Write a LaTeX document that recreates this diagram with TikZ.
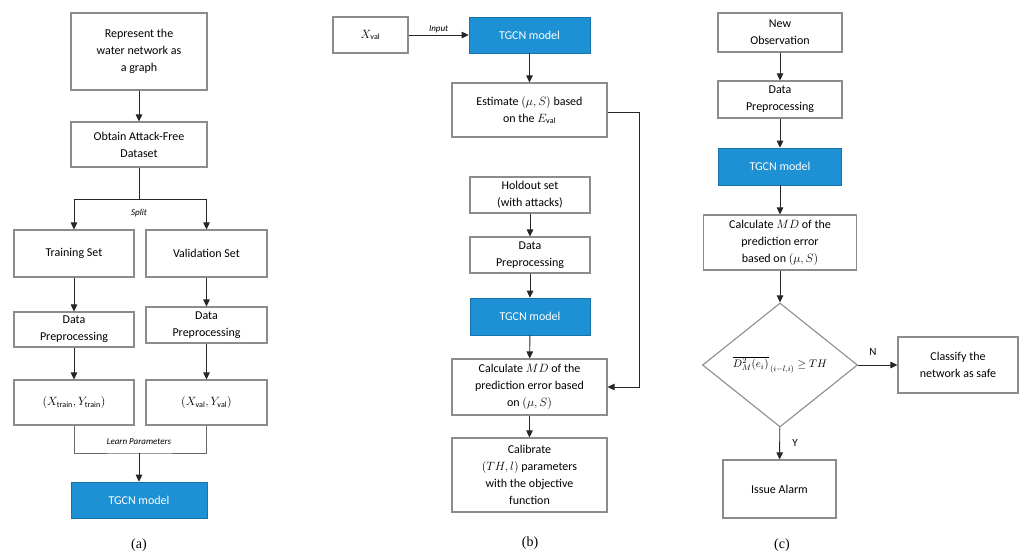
\documentclass[tikz,border=0pt]{standalone}
\usepackage{fontspec}
\setmainfont{Carlito}
\newfontfamily\capfont{Liberation Serif}
\usetikzlibrary{arrows.meta,shapes.geometric,calc}
\definecolor{tgblue}{RGB}{30,144,212}
\definecolor{boxgray}{RGB}{140,140,140}
\begin{document}
\begin{tikzpicture}[x=1pt,y=-1pt,
  box/.style={draw=boxgray,line width=1.1pt,fill=white,align=center,inner sep=2pt,font=\fontsize{12}{17}\selectfont},
  bluebox/.style={fill=tgblue,draw=tgblue!80!black,line width=0.6pt,text=white,align=center,font=\fontsize{12}{17}\selectfont},
  arr/.style={draw=black!85,line width=0.9pt,-{Triangle[length=7pt,width=6.5pt]}},
  ln/.style={draw=black!85,line width=0.9pt},
  lbl/.style={font=\fontsize{9}{10}\selectfont\itshape,inner sep=1pt},
  yn/.style={font=\fontsize{11}{12}\selectfont,inner sep=1pt},
  captxt/.style={font=\capfont\fontsize{14}{16}\selectfont}]
\useasboundingbox (0,0) rectangle (1020,557);
% ---------------- panel (a)
\node[box,minimum width=136,minimum height=77] (a1) at (139,51.5) {Represent the\\ water network as\\ a graph};
\node[box,minimum width=136,minimum height=45] (a2) at (139,144.5) {Obtain Attack-Free\\ Dataset};
\node[box,minimum width=120,minimum height=47] (a3) at (74,253.5) {Training Set};
\node[box,minimum width=121,minimum height=47] (a4) at (206.5,253.5) {Validation Set};
\node[box,minimum width=120,minimum height=35] (a5) at (74,329.5) {Data\\ Preprocessing};
\node[box,minimum width=121,minimum height=36] (a6) at (206.5,325) {Data\\ Preprocessing};
\node[box,minimum width=120,minimum height=45] (a7) at (74,402.5) {$(X_{\mathrm{train}},Y_{\mathrm{train}})$};
\node[box,minimum width=121,minimum height=45] (a8) at (206.5,402.5) {$(X_{\mathrm{val}},Y_{\mathrm{val}})$};
\node[bluebox,minimum width=136,minimum height=36] (a9) at (139,500) {TGCN model};
\coordinate (asplit) at (139,199);
\coordinate (alearn) at (139,453);
\node[captxt] (capa) at (139,545) {(a)};
\draw[arr] (a1) -- (a2);
\draw[ln] (a2) -- (asplit);
\draw[arr] (asplit) -| (a3.north);
\draw[arr] (asplit) -| (a4.north);
\node[lbl] (lsplit) at (139,213) {Split};
\draw[arr] (a3) -- (a5);
\draw[arr] (a4) -- (a6);
\draw[arr] (a5) -- (a7);
\draw[arr] (a6) -- (a8);
\draw[ln,draw=black!60,line width=0.7pt] (a7.south) |- (alearn) -| (a8.south);
\node[lbl] (llearn) at (139,442) {Learn Parameters};
\draw[arr] (alearn) -- (a9);
% ---------------- panel (b)
\node[box,minimum width=75,minimum height=36] (b1) at (370.5,35) {$X_{\mathrm{val}}$};
\node[bluebox,minimum width=121,minimum height=36] (b2) at (529.5,35) {TGCN model};
\node[box,minimum width=155,minimum height=54] (b3) at (529.5,110) {Estimate $(\mu,S)$ based\\ on the $E_{\mathrm{val}}$};
\node[box,minimum width=120,minimum height=36] (b4) at (530,195) {Holdout set\\ (with attacks)};
\node[box,minimum width=120,minimum height=36] (b5) at (530,255) {Data\\ Preprocessing};
\node[bluebox,minimum width=120,minimum height=37] (b6) at (530,316.5) {TGCN model};
\node[box,minimum width=155,minimum height=56] (b7) at (529.5,387) {Calculate $MD$ of the\\ prediction error based\\ on $(\mu,S)$};
\node[box,minimum width=155,minimum height=74] (b8) at (529.5,475) {Calibrate\\ $(TH,l)$ parameters\\ with the objective\\ function};
\node[captxt] (capb) at (530,543) {(b)};
\draw[arr] (b1) -- node[lbl,above=1pt] {Input} (b2);
\draw[arr] (b2) -- (b3);
\coordinate (bfb1) at (639,112);
\coordinate (bfb2) at (639,387);
\draw[arr] (b3.east |- bfb1) -- (bfb1) -- (bfb2) -- (b7.east);
\draw[arr] (b4) -- (b5);
\draw[arr] (b5) -- (b6);
\draw[arr] (b6) -- (b7);
\draw[arr] (b7) -- (b8);
% ---------------- panel (c)
\node[box,minimum width=124,minimum height=39] (c1) at (780,32.5) {New\\ Observation};
\node[box,minimum width=124,minimum height=37] (c2) at (780,99.5) {Data\\ Preprocessing};
\node[bluebox,minimum width=123,minimum height=37] (c3) at (780,166.5) {TGCN model};
\node[box,minimum width=153,minimum height=55] (c4) at (780,242.5) {Calculate $MD$ of the\\ prediction error\\ based on $(\mu,S)$};
\node[box,diamond,shape aspect=1.25,inner sep=0pt,minimum width=155,minimum height=124,font=\fontsize{11}{13}\selectfont] (c5) at (780,365) {${\overline{D^{2}_{M}(e_i)}}_{\,(i-l,i)}\geq TH$};
\node[box,minimum width=120,minimum height=56] (c6) at (958,365) {Classify the\\ network as safe};
\node[box,minimum width=113,minimum height=58] (c7) at (779.5,489) {Issue Alarm};
\node[captxt] (capc) at (782,545) {(c)};
\draw[arr] (c1) -- (c2);
\draw[arr] (c2) -- (c3);
\draw[arr] (c3) -- (c4);
\draw[arr] (c4) -- (c5);
\draw[arr] (c5) -- (c6);
\draw[arr] (c5) -- (c7);
\node[yn] (ln) at (873,352) {N};
\node[yn] (ly) at (795,443) {Y};
\end{tikzpicture}
\end{document}
